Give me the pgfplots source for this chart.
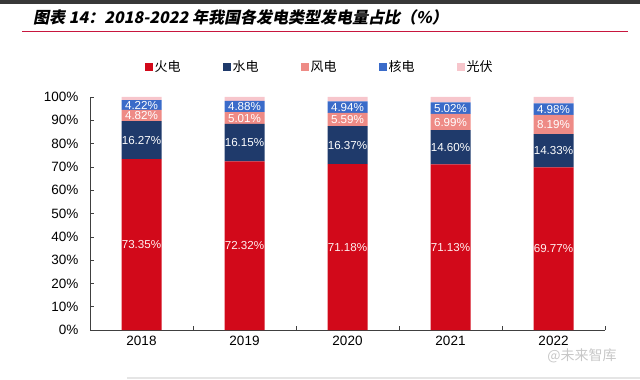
\documentclass[border=0pt]{standalone}
\usepackage{pgfplots}
\pgfplotsset{compat=1.18}
\usepackage{pgfplotstable}
\usepackage{fontspec}
\setmainfont{Liberation Sans}
\newfontfamily\cjk{Noto Sans CJK SC}
\newfontfamily\cjktitle[FakeSlant=0.2]{Noto Sans CJK SC}
\definecolor{cfire}{HTML}{D2091A}
\definecolor{chydro}{HTML}{1F3A6B}
\definecolor{cwind}{HTML}{EE8B86}
\definecolor{cnuc}{HTML}{3A6BC9}
\definecolor{csolar}{HTML}{F7C6CC}
\definecolor{cline}{HTML}{C8163E}
\pgfplotstableread{
x fire hydro wind nuclear solar
0 73.35 16.27 4.82 4.22 1.34
1 72.32 16.15 5.01 4.88 1.64
2 71.18 16.37 5.59 4.94 1.92
3 71.13 14.60 6.99 5.02 2.26
4 69.77 14.33 8.19 4.98 2.73
}\data
\pgfplotsset{
  frame/.style={at={(90bp,49bp)}, anchor=south west,
    scale only axis, width=515bp, height=233bp,
    xmin=-0.5, xmax=4.5, ymin=0, ymax=100},
  lbl/.style={only marks, mark=none, nodes near coords,
    nodes near coords={\pgfmathprintnumber[fixed,fixed zerofill,precision=2]{\pgfplotspointmeta}\%},
    every node near coord/.append style={anchor=center, inner sep=0pt, font=\fontsize{11.6bp}{12bp}\selectfont, text=#1}},
}
\begin{document}
\begin{tikzpicture}[x=1bp,y=1bp]
\path[use as bounding box] (0,0) rectangle (640,379);
\fill[black!78] (0,375) rectangle (640,379);
\fill[black!10] (127,0) rectangle (640,2.5);
\node[anchor=base west, inner sep=0pt, font=\cjktitle\bfseries\fontsize{16bp}{19bp}\selectfont] at (33,356) {图表 14：2018-2022 年我国各发电类型发电量占比（\%）};
\draw[cline, line width=1.2bp] (22,347.5) -- (628,347.5);
\node[anchor=base, text=black!22, font=\cjk\fontsize{14bp}{16bp}\selectfont] at (582,19) {@未来智库};
\begin{axis}[
  frame,
  ybar stacked, bar width=40bp,
  axis x line*=bottom, axis y line*=left,
  axis line style={black!75, line width=0.6bp},
  xtick={0,1,2,3,4},
  xticklabels={2018,2019,2020,2021,2022},
  major x tick style={draw=none},
  minor xtick={0.5,1.5,2.5,3.5,4.5},
  minor x tick style={black!75, line width=0.6bp},
  minor tick length=4bp,
  ytick={0,10,...,100},
  yticklabel={\pgfmathprintnumber{\tick}\%},
  y tick style={black!75, line width=0.6bp},
  major tick length=4bp,
  tick align=inside,
  /pgf/number format/assume math mode=true,
  ticklabel style={font=\fontsize{13.5bp}{16bp}\selectfont},
  yticklabel style={xshift=-8bp},
  xticklabel style={yshift=-3bp},
  legend columns=5,
  legend style={draw=none, fill=none, at={(0.1,1.13)}, anchor=west,
    font=\cjk\fontsize{13bp}{15bp}\selectfont,
    /tikz/every even column/.append style={column sep=40bp}},
  legend image code/.code={\fill[#1] (0bp,-4bp) rectangle (8bp,4bp);},
]
\addplot[fill=cfire, draw=none] table[x=x,y=fire]{\data};
\addplot[fill=chydro, draw=none] table[x=x,y=hydro]{\data};
\addplot[fill=cwind, draw=none] table[x=x,y=wind]{\data};
\addplot[fill=cnuc, draw=none] table[x=x,y=nuclear]{\data};
\addplot[fill=csolar, draw=none] table[x=x,y=solar]{\data};
\legend{火电,水电,风电,核电,光伏}
\end{axis}
\begin{axis}[frame, hide axis, /pgf/number format/assume math mode=true]
\addplot[lbl=red!6, point meta=\thisrow{fire}] table[x=x, y expr=\thisrow{fire}/2]{\data};
\addplot[lbl=white, point meta=\thisrow{hydro}] table[x=x, y expr=\thisrow{fire}+\thisrow{hydro}/2]{\data};
\addplot[lbl=white, point meta=\thisrow{wind}] table[x=x, y expr=\thisrow{fire}+\thisrow{hydro}+\thisrow{wind}/2]{\data};
\addplot[lbl=white, point meta=\thisrow{nuclear}] table[x=x, y expr=\thisrow{fire}+\thisrow{hydro}+\thisrow{wind}+\thisrow{nuclear}/2]{\data};
\end{axis}
\end{tikzpicture}
\end{document}
